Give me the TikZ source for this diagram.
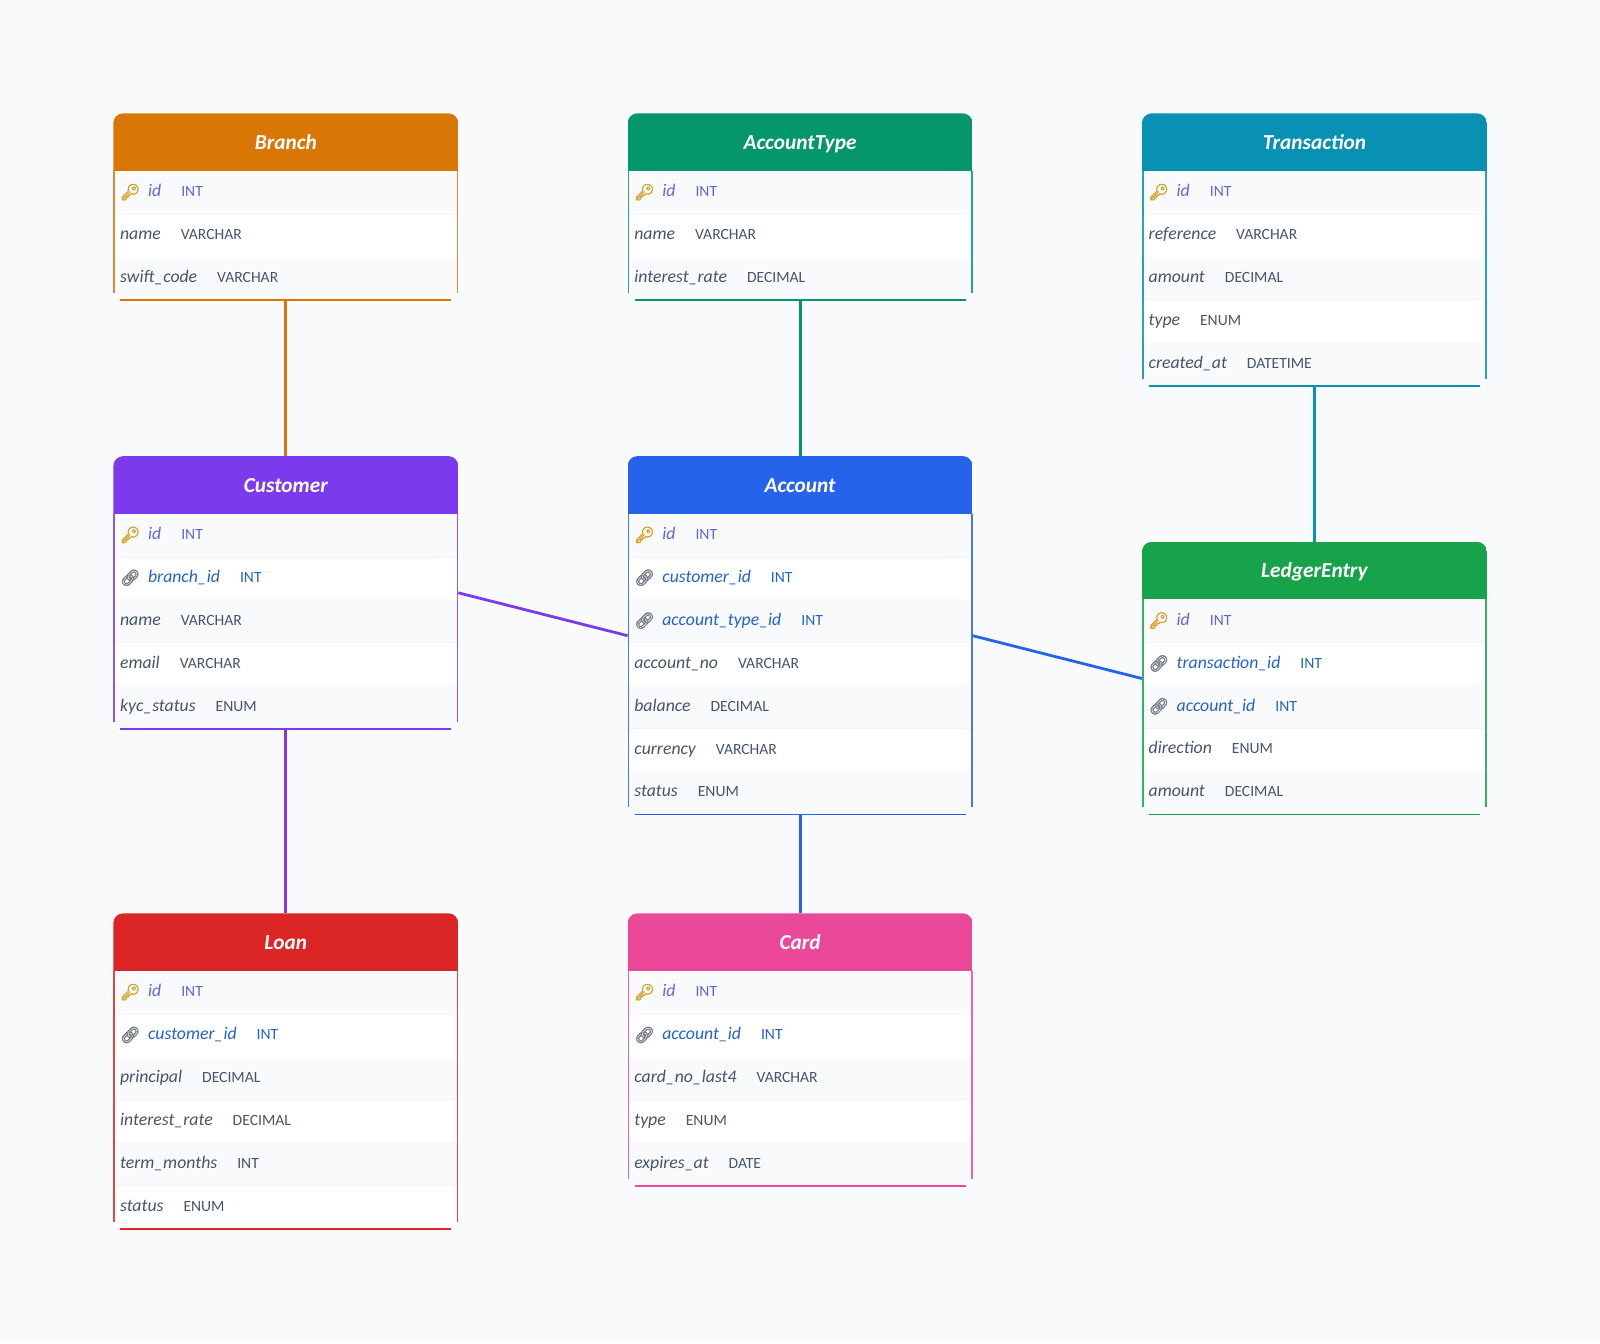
\documentclass[tikz,border=0pt]{standalone}
\usepackage{fontspec}
\setmainfont{Carlito}
\newfontfamily\emojifont[FakeBold=2.5]{Noto Emoji}
\definecolor{pagebg}{HTML}{F8FAFC}
\definecolor{rowtint}{HTML}{F8FAFC}
\definecolor{rowsep}{HTML}{F1F5F9}
\definecolor{inkk}{HTML}{6366D8}
\definecolor{inkf}{HTML}{2563C8}
\definecolor{inkn}{HTML}{475569}
\definecolor{cBranch}{HTML}{D97706}
\definecolor{cAccountType}{HTML}{059669}
\definecolor{cTransaction}{HTML}{0891B2}
\definecolor{cCustomer}{HTML}{7C3AED}
\definecolor{cAccount}{HTML}{2563EB}
\definecolor{cLedgerEntry}{HTML}{16A34A}
\definecolor{cLoan}{HTML}{DC2626}
\definecolor{cCard}{HTML}{EC4899}
\newcommand{\iconk}{\makebox[21pt][l]{\raisebox{-0.5pt}{\emojifont\fontsize{12pt}{12pt}\selectfont\textcolor[HTML]{D9A021}{🔑}}}}
\newcommand{\iconf}{\makebox[21pt][l]{\raisebox{-0.5pt}{\emojifont\fontsize{12pt}{12pt}\selectfont\textcolor[HTML]{7A808A}{🔗}}}}
\newcommand{\iconn}{}
\newcommand{\namefont}{\fontsize{13.3pt}{14pt}\selectfont\itshape}
\newcommand{\typefont}{\fontsize{11.7pt}{14pt}\selectfont}
\tikzset{
  cardbody/.style={draw=none,fill=white,rounded corners=7.5pt,minimum width=258.75pt,inner sep=0,outer sep=0,anchor=north west},
  titletext/.style={text=white,anchor=base,inner sep=0,font=\fontsize{16pt}{16pt}\selectfont\bfseries\itshape},
  rowtext/.style={anchor=base west,inner sep=0,font=\fontsize{12.6pt}{14pt}\selectfont},
  edgeline/.style={line width=2.1pt}
}
\newcommand{\card}[7]{% id, colour, title, x, y, nrows, rows
  \pgfmathsetmacro{\cardh}{(57.1+42.86*#6+2)*0.75}
  \node[cardbody,minimum height=\cardh pt] (#1) at (#4,#5) {};
  \begin{scope}
    \clip[rounded corners=7.5pt] (#4,#5) rectangle ++(345,57.1+42.86*#6+2);
    \fill[#2] (#4,#5) rectangle ++(345,57.6);
    \foreach \kind/\fname/\ftype [count=\i from 1] in {#7} {
      \pgfmathsetmacro{\ry}{#5+57.6+42.86*(\i-1)}
      \pgfmathparse{int(mod(\i,2))}
      \ifnum\pgfmathresult=1
        \fill[rowtint] (#4,\ry) rectangle ++(345,43);
      \fi
      \ifnum\i<#6
        \draw[rowsep,line width=0.75pt] (#4,\ry+43.3) -- ++(345,0);
      \fi
    }
  \end{scope}
  \draw[#2,line width=1.2pt,opacity=0.85] (#4+0.8,#5+57.6) -- (#4+0.8,#5+57.1+42.86*#6-6);
  \draw[#2,line width=1.2pt,opacity=0.85] (#4+344.2,#5+57.6) -- (#4+344.2,#5+57.1+42.86*#6-6);
  \draw[#2,line width=1.2pt] (#4+7,#5+57.1+42.86*#6+1.3) -- (#4+338,#5+57.1+42.86*#6+1.3);
  \node[titletext] (#1-title) at (#4+172.5,#5+36) {#3};
  \foreach \kind/\fname/\ftype [count=\i from 1] in {#7} {
    \pgfmathsetmacro{\ry}{#5+57.6+42.86*(\i-1)}
    \node[rowtext,text=ink\kind] (#1-row\i) at (#4+6.5,\ry+26) {\csname icon\kind\endcsname{\namefont\fname}\hspace{15pt}{\typefont\ftype}};
  }
}
\begin{document}
\begin{tikzpicture}[x=0.75pt,y=-0.75pt]
\fill[pagebg] (0,0) rectangle (1600,1343);
\useasboundingbox (0,0) rectangle (1600,1343);
\card{Branch}{cBranch}{Branch}{113.3}{113.3}{3}{k/id/INT,n/name/VARCHAR,n/swift\_code/VARCHAR}
\card{AccountType}{cAccountType}{AccountType}{627.6}{113.3}{3}{k/id/INT,n/name/VARCHAR,n/interest\_rate/DECIMAL}
\card{Transaction}{cTransaction}{Transaction}{1141.9}{113.3}{5}{k/id/INT,n/reference/VARCHAR,n/amount/DECIMAL,n/type/ENUM,n/created\_at/DATETIME}
\card{Customer}{cCustomer}{Customer}{113.3}{456.1}{5}{k/id/INT,f/branch\_id/INT,n/name/VARCHAR,n/email/VARCHAR,n/kyc\_status/ENUM}
\card{Account}{cAccount}{Account}{627.6}{456.1}{7}{k/id/INT,f/customer\_id/INT,f/account\_type\_id/INT,n/account\_no/VARCHAR,n/balance/DECIMAL,n/currency/VARCHAR,n/status/ENUM}
\card{LedgerEntry}{cLedgerEntry}{LedgerEntry}{1141.9}{541.8}{5}{k/id/INT,f/transaction\_id/INT,f/account\_id/INT,n/direction/ENUM,n/amount/DECIMAL}
\card{Loan}{cLoan}{Loan}{113.3}{913.3}{6}{k/id/INT,f/customer\_id/INT,n/principal/DECIMAL,n/interest\_rate/DECIMAL,n/term\_months/INT,n/status/ENUM}
\card{Card}{cCard}{Card}{627.6}{913.3}{5}{k/id/INT,f/account\_id/INT,n/card\_no\_last4/VARCHAR,n/type/ENUM,n/expires\_at/DATE}
\draw[edgeline,cBranch] (Branch.south) -- (Customer.north);
\draw[edgeline,cAccountType] (AccountType.south) -- (Account.north);
\draw[edgeline,cTransaction] (Transaction.south) -- (LedgerEntry.north);
\draw[edgeline,cCustomer] (Customer.south) -- (Loan.north);
\draw[edgeline,cAccount] (Account.south) -- (Card.north);
\draw[edgeline,cCustomer] (Customer.east) -- (Account.west);
\draw[edgeline,cAccount] (Account.east) -- (LedgerEntry.west);
\end{tikzpicture}
\end{document}
